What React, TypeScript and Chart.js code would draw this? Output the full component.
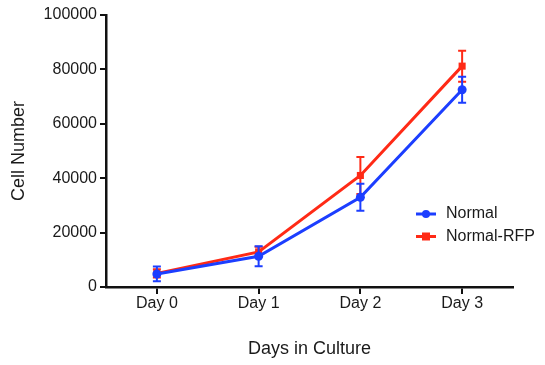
import React, { useEffect, useRef } from "react";
import { Chart, registerables } from "chart.js";

Chart.register(...registerables);

const categories = ["Day 0", "Day 1", "Day 2", "Day 3"];
const normalMean = [4800, 11300, 33000, 72500];
const normalErr = [2700, 3700, 5000, 4800];
const rfpMean = [5000, 12900, 41000, 81200];
const rfpErr = [1500, 1900, 6800, 5700];
const seriesNames = ["Normal", "Normal-RFP"];
const yTicks = [0, 20000, 40000, 60000, 80000, 100000];

const BLUE = "rgb(28,62,255)";
const RED = "rgb(255,42,22)";
const FONT = "'Liberation Sans', Arial, Helvetica, sans-serif";
const TEXT = "#1a1a1a";

const errors = [normalErr, rfpErr];
const colors = [BLUE, RED];

const errorBarPlugin = {
  id: "errorBars",
  afterDatasetDraw(chart: any, args: any) {
    const i = args.index;
    const err = errors[i];
    if (!err) return;
    const ds = chart.data.datasets[i];
    const x = chart.scales.x;
    const y = chart.scales.y;
    const ctx = chart.ctx;
    ctx.save();
    ctx.strokeStyle = colors[i];
    ctx.lineWidth = 2;
    ds.data.forEach((v: number, j: number) => {
      const px = x.getPixelForValue(j);
      const top = y.getPixelForValue(v + err[j]);
      const bot = y.getPixelForValue(v - err[j]);
      ctx.beginPath();
      ctx.moveTo(px, top);
      ctx.lineTo(px, bot);
      ctx.moveTo(px - 4, top);
      ctx.lineTo(px + 4, top);
      ctx.moveTo(px - 4, bot);
      ctx.lineTo(px + 4, bot);
      ctx.stroke();
    });
    ctx.restore();
  },
};

const legendPlugin = {
  id: "insideLegend",
  afterDraw(chart: any) {
    const ctx = chart.ctx;
    const area = chart.chartArea;
    const x0 = area.right - 97;
    const rows = [area.top + 199, area.top + 221.5];
    ctx.save();
    seriesNames.forEach((name, i) => {
      const yy = rows[i];
      ctx.strokeStyle = colors[i];
      ctx.fillStyle = colors[i];
      ctx.lineWidth = 3;
      ctx.beginPath();
      ctx.moveTo(x0, yy);
      ctx.lineTo(x0 + 20, yy);
      ctx.stroke();
      if (i === 0) {
        ctx.beginPath();
        ctx.arc(x0 + 10, yy, 4, 0, Math.PI * 2);
        ctx.fill();
      } else {
        ctx.fillRect(x0 + 6, yy - 4, 8, 8);
      }
      ctx.fillStyle = TEXT;
      ctx.font = `16px ${FONT}`;
      ctx.textBaseline = "middle";
      ctx.textAlign = "left";
      ctx.fillText(name, x0 + 30, yy);
    });
    ctx.restore();
  },
};

export default function App() {
  const ref = useRef<HTMLCanvasElement | null>(null);
  useEffect(() => {
    if (!ref.current) return;
    const chart = new Chart(ref.current, {
      type: "line",
      data: {
        labels: categories,
        datasets: [
          {
            label: seriesNames[0],
            data: normalMean,
            borderColor: BLUE,
            backgroundColor: BLUE,
            borderWidth: 3,
            pointStyle: "circle",
            pointRadius: 4.5,
            pointBorderWidth: 0,
          },
          {
            label: seriesNames[1],
            data: rfpMean,
            borderColor: RED,
            backgroundColor: RED,
            borderWidth: 3,
            pointStyle: "rect",
            pointRadius: 5,
            pointBorderWidth: 0,
          },
        ],
      },
      options: {
        responsive: false,
        animation: false,
        devicePixelRatio: 1,
        layout: { padding: { left: 0, top: 15, right: 32, bottom: 0 } },
        plugins: { legend: { display: false }, tooltip: { enabled: false } },
        scales: {
          x: {
            type: "category",
            offset: true,
            grid: {
              offset: false,
              drawOnChartArea: false,
              drawTicks: true,
              tickLength: 7,
              color: "#111",
              lineWidth: 2,
            },
            border: { color: "#111", width: 2.5 },
            ticks: { color: TEXT, font: { size: 16, family: FONT }, padding: 0 },
            title: {
              display: true,
              text: "Days in Culture",
              color: TEXT,
              font: { size: 18, family: FONT },
              padding: { top: 0, bottom: 5 },
            },
            afterFit(scale: any) {
              scale.height = 78;
            },
          },
          y: {
            min: 0,
            max: 100000,
            afterBuildTicks(scale: any) {
              scale.ticks = yTicks.map((v) => ({ value: v }));
            },
            grid: {
              drawOnChartArea: false,
              drawTicks: true,
              tickLength: 6,
              color: "#111",
              lineWidth: 2,
            },
            border: { color: "#111", width: 2.5 },
            ticks: {
              color: TEXT,
              font: { size: 16, family: FONT },
              padding: 3,
              callback: (v: any) => String(v),
            },
            title: {
              display: true,
              text: "Cell Number",
              color: TEXT,
              font: { size: 18, family: FONT },
              padding: { top: 8, bottom: 0 },
            },
            afterFit(scale: any) {
              scale.width = 106;
            },
          },
        },
      },
      plugins: [errorBarPlugin, legendPlugin],
    } as any);
    return () => chart.destroy();
  }, []);
  return (
    <div style={{ position: "absolute", left: 0, top: 0, width: 545, height: 365, background: "#fff" }}>
      <canvas ref={ref} width={545} height={365} />
    </div>
  );
}
